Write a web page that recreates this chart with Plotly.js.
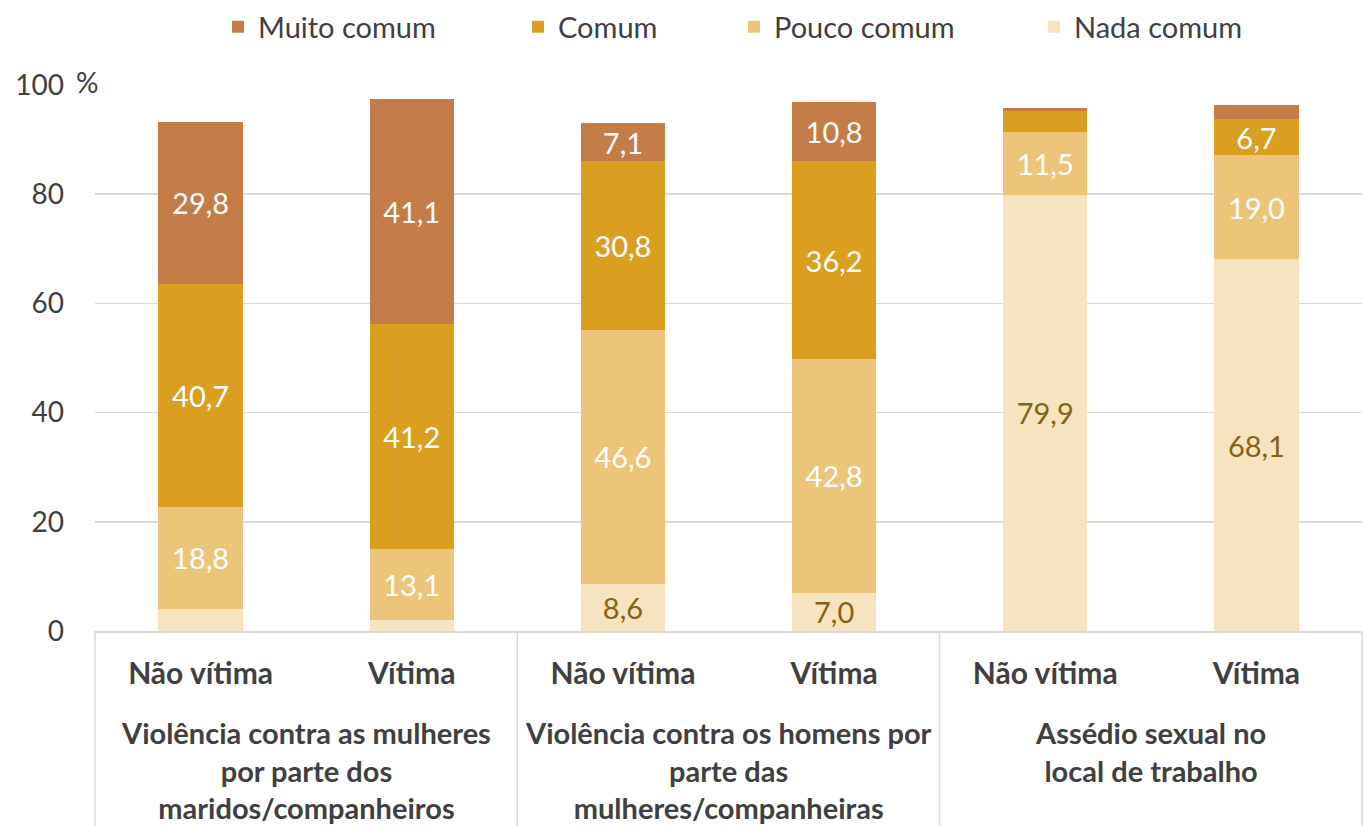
<!DOCTYPE html>
<html>
<head>
<meta charset="utf-8">
<script src="https://cdn.plot.ly/plotly-3.0.1.min.js"></script>
<style>html,body{margin:0;padding:0;background:#fff;}#chart{width:1363px;height:826px;}</style>
</head>
<body>
<div id="chart"></div>
<script>
// Data
var barLabels = ["Não vítima", "Vítima", "Não vítima", "Vítima", "Não vítima", "Vítima"];
var groupLabels = [
  "Violência contra as mulheres<br>por parte dos<br>maridos/companheiros",
  "Violência contra os homens por<br>parte das<br>mulheres/companheiras",
  "Assédio sexual no<br>local de trabalho"
];
var seriesNames = ["Muito comum", "Comum", "Pouco comum", "Nada comum"];
var muitoComum = [29.8, 41.1, 7.1, 10.8, 0.5, 2.5];
var comum      = [40.7, 41.2, 30.8, 36.2, 3.9, 6.7];
var poucoComum = [18.8, 13.1, 46.6, 42.8, 11.5, 19.0];
var nadaComum  = [4.0, 2.0, 8.6, 7.0, 79.9, 68.1];

var colors = {muito: "#C47C48", comum: "#DA9E20", pouco: "#EDC57A", nada: "#F6E3C0"};
var FONT = "Lato, 'Open Sans', sans-serif";
var xIdx = barLabels.map(function(_, i){ return i; });

function lbl(vals){
  return vals.map(function(v){ return v >= 5 ? v.toFixed(1).replace('.', ',') : ''; });
}
function mk(name, vals, color, txtColor, legendId){
  return {
    type: 'bar', name: name, x: xIdx, y: vals,
    marker: {color: color, line: {width: 0}},
    text: lbl(vals), textposition: 'inside', insidetextanchor: 'middle',
    textangle: 0, constraintext: 'none',
    textfont: {family: FONT, size: 29, color: txtColor},
    hoverinfo: 'name+y', legend: legendId, showlegend: true, width: 0.4
  };
}
var traces = [
  mk(seriesNames[3], nadaComum, colors.nada, '#876214', 'legend4'),
  mk(seriesNames[2], poucoComum, colors.pouco, '#ffffff', 'legend3'),
  mk(seriesNames[1], comum, colors.comum, '#ffffff', 'legend2'),
  mk(seriesNames[0], muitoComum, colors.muito, '#ffffff', 'legend')
];

var nCat = barLabels.length;
var range = [-0.5, nCat - 0.5];
function toPaper(v){ return (v - range[0]) / (range[1] - range[0]); }

var shapes = [];
[-0.5, 1.5, 3.5, 5.5].forEach(function(b){
  shapes.push({type: 'line', xref: 'paper', yref: 'paper', x0: toPaper(b), x1: toPaper(b), y0: 0, y1: -1,
    line: {color: '#d9d9d9', width: 1.5}});
});

var annotations = groupLabels.map(function(t, g){
  return {xref: 'paper', yref: 'paper', x: toPaper(2*g + 0.5), y: -0.151, xanchor: 'center', yanchor: 'top',
    text: '<b>' + t + '</b>', showarrow: false, align: 'center',
    font: {family: FONT, size: 29, color: '#404040'}};
});
annotations.push({xref: 'paper', yref: 'y', x: 0, y: 100, xanchor: 'right', yanchor: 'middle', xshift: 5, yshift: 3,
  text: '%', showarrow: false, font: {family: FONT, size: 28, color: '#404040'}});

function leg(xpx){
  return {orientation: 'h', xref: 'container', yref: 'container', x: xpx / 1363, y: 1 - 27/826,
    xanchor: 'left', yanchor: 'middle', font: {family: FONT, size: 29, color: '#404040'},
    bgcolor: 'rgba(0,0,0,0)'};
}

var layout = {
  width: 1363, height: 826,
  margin: {l: 95, r: 1, t: 85, b: 195},
  paper_bgcolor: '#fff', plot_bgcolor: '#fff',
  barmode: 'stack', separators: ',.', showlegend: true,
  font: {family: FONT, color: '#404040'},
  legend: leg(218), legend2: leg(518), legend3: leg(734), legend4: leg(1034),
  xaxis: {range: range, tickvals: xIdx, ticktext: barLabels.map(function(s){ return '<b>' + s + '</b>'; }),
    tickfont: {family: FONT, size: 30, color: '#404040'}, ticks: '', ticklabelstandoff: 15,
    showline: true, linecolor: '#d9d9d9', linewidth: 1.5, showgrid: false, zeroline: false, fixedrange: true},
  yaxis: {range: [0, 100], tickvals: [0, 20, 40, 60, 80, 100], tickfont: {family: FONT, size: 28, color: '#404040'},
    ticks: '', ticklabelstandoff: 30, gridcolor: '#d9d9d9', gridwidth: 1.5, zeroline: false, showline: false, fixedrange: true},
  shapes: shapes, annotations: annotations
};

Plotly.newPlot('chart', traces, layout, {displayModeBar: false, staticPlot: true});
</script>
</body>
</html>
